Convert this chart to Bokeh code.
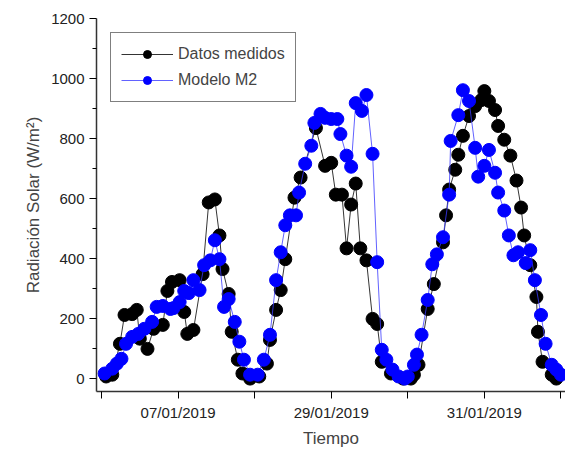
from bokeh.plotting import figure
from bokeh.models import Range1d, FixedTicker, Legend, LegendItem
from bokeh.embed import file_html
from bokeh.resources import INLINE

# x en días desde el primer tick
x_med = [.03, .07, .12, .15, .20, .23, .25, .30, .34, .40, .43, .46, .51, .54, .56, .60, .66, .70, .74, .77,
         .79, .83, .85, .89, .92, .97, 1.03, 1.08, 1.10, 1.14, 1.17, 1.20, 1.26, 1.30, 1.40, 1.46, 1.50, 1.53,
         1.57, 1.60, 1.63, 1.66, 1.69, 1.73, 1.77, 1.80, 1.83, 1.89, 1.97, 2.02, 2.04, 2.07, 2.13, 2.17, 2.23,
         2.25, 2.27, 2.31, 2.33, 2.36, 2.40, 2.44, 2.48, 2.50, 2.53, 2.57, 2.59, 2.63, 2.67, 2.71, 2.74, 2.76,
         2.80, 2.84, 2.85, 2.88, 2.94, 2.97]
y_med = [7, 13, 116, 212, 215, 229, 133, 99, 166, 179, 292, 322, 328, 222, 149, 162, 348, 587, 597, 477,
         365, 282, 156, 63, 17, 0, 7, 50, 129, 229, 295, 398, 603, 670, 835, 709, 719, 613,
         613, 434, 580, 650, 434, 394, 199, 182, 56, 17, 0, 0, 13, 46, 232, 315, 454,
         544, 630, 696, 746, 809, 875, 908, 928, 958, 925, 895, 842, 796, 743, 660, 570, 477,
         378, 272, 156, 56, 13, 0]
x_mod = [.02, .07, .10, .13, .16, .20, .24, .28, .33, .36, .40, .45, .47, .51, .54, .57, .60, .64, .67, .71,
         .74, .77, .80, .83, .87, .90, .93, .97, 1.02, 1.06, 1.10, 1.14, 1.17, 1.20, 1.23, 1.27, 1.29, 1.33,
         1.37, 1.39, 1.43, 1.46, 1.50, 1.54, 1.56, 1.60, 1.63, 1.66, 1.70, 1.73, 1.77, 1.80, 1.83, 1.86, 1.90,
         1.94, 1.98, 2.00, 2.04, 2.06, 2.09, 2.13, 2.16, 2.19, 2.23, 2.27, 2.28, 2.33, 2.36, 2.40, 2.44, 2.46,
         2.50, 2.53, 2.57, 2.59, 2.63, 2.66, 2.69, 2.72, 2.77, 2.80, 2.83, 2.87, 2.90, 2.94, 2.97, 3.00]
y_mod = [17, 33, 50, 66, 116, 139, 149, 166, 189, 239, 242, 232, 235, 255, 292, 285, 328, 295, 378, 394,
         461, 398, 239, 265, 189, 123, 63, 13, 13, 63, 146, 328, 421, 511, 544, 544, 620, 716,
         776, 852, 882, 869, 865, 865, 815, 743, 706, 918, 892, 945, 749, 388, 96, 63, 30,
         7, 0, 7, 46, 80, 146, 262, 381, 414, 471, 613, 792, 878, 961, 925, 769, 673,
         709, 762, 686, 620, 560, 477, 411, 421, 385, 428, 328, 212, 116, 46, 30, 13]
etiquetas = {0.5: "07/01/2019", 1.5: "29/01/2019", 2.5: "31/01/2019"}

p = figure(width=565, height=452, output_backend="svg", toolbar_location=None,
           x_range=Range1d(-0.033, 3.03), y_range=Range1d(-43, 1200),
           min_border_left=96, min_border_right=0, min_border_top=18, min_border_bottom=61)
p.outline_line_color = None
p.grid.visible = False

f = "Liberation Sans"
p.xaxis.ticker = FixedTicker(ticks=[0, 0.5, 1, 1.5, 2, 2.5, 3])
p.xaxis.major_label_overrides = {0: "", 1: "", 2: "", 3: "", **etiquetas}
p.xaxis.axis_label = "Tiempo"
p.yaxis.ticker = FixedTicker(ticks=list(range(0, 1201, 200)), minor_ticks=list(range(100, 1200, 200)))
p.yaxis.axis_label = "Radiación Solar (W/m²)"
for ax in (p.xaxis, p.yaxis):
    ax.axis_label_text_font = f
    ax.axis_label_text_font_style = "normal"
    ax.axis_label_text_font_size = "17px"
    ax.major_label_text_font = f
    ax.major_label_text_font_size = "15px"
    ax.major_label_text_color = "#222222"
    ax.axis_line_color = "#333333"
    ax.axis_line_width = 1.5
    ax.major_tick_in = 0
    ax.major_tick_out = 7
    ax.minor_tick_in = 0
    ax.minor_tick_out = 4
p.xaxis.minor_tick_line_color = None

l1 = p.line(x_med, y_med, color="black", line_width=0.8)
c1 = p.scatter(x_med, y_med, size=13, color="black")
l2 = p.line(x_mod, y_mod, color="#3a3aff", line_width=0.8)
c2 = p.scatter(x_mod, y_mod, size=13, color="blue")

leg = Legend(items=[LegendItem(label="Datos medidos", renderers=[l1, c1]),
                    LegendItem(label="Modelo M2", renderers=[l2, c2])],
             location="top_left", label_text_font=f, label_text_font_size="16px",
             border_line_color="black", border_line_width=1.2, margin=14, padding=10,
             spacing=4, glyph_width=52, label_height=22)
p.add_layout(leg)

open("out.html", "w").write(file_html(p, INLINE))
